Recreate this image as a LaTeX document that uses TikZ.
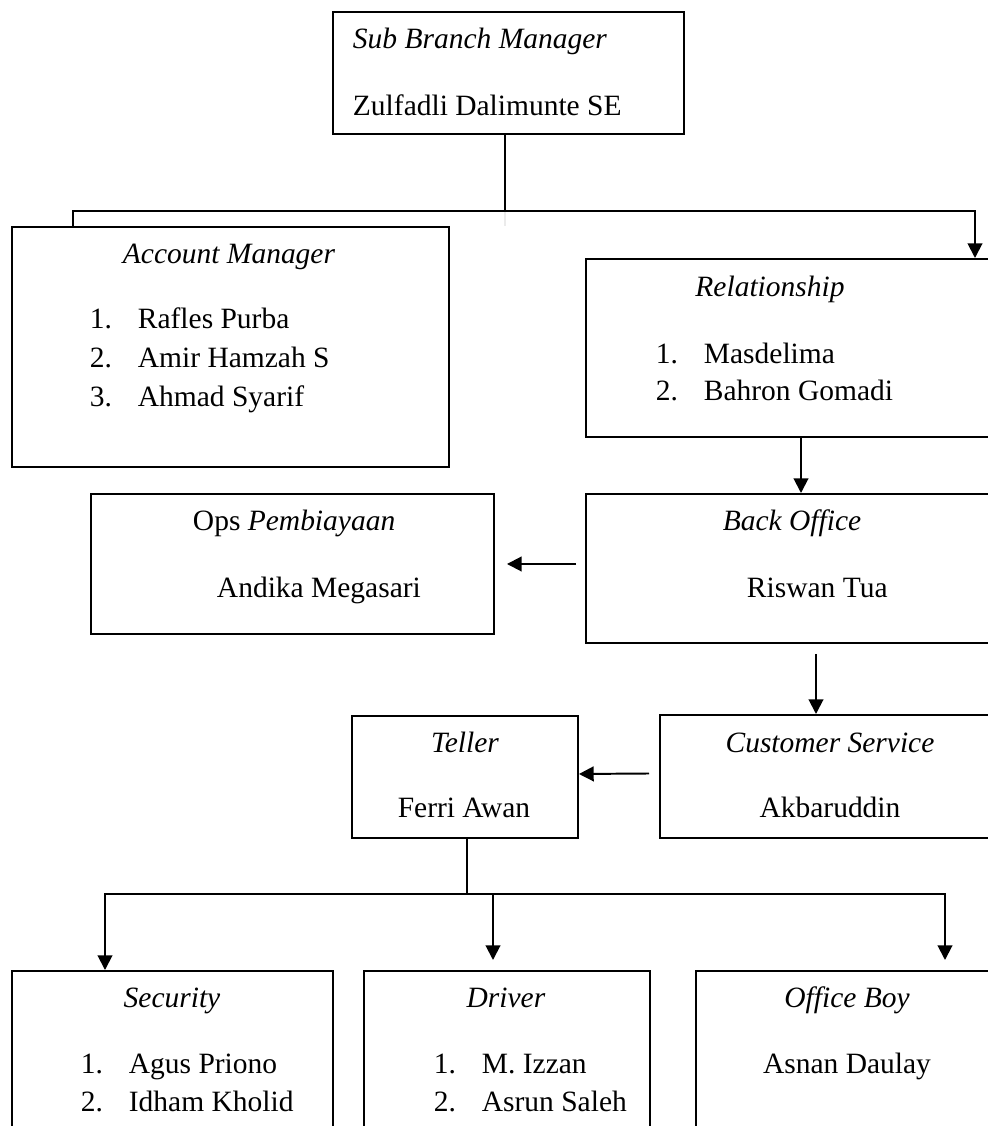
\documentclass[tikz,border=0pt]{standalone}
\usepackage{fontspec}
\setmainfont{Liberation Serif}
\usetikzlibrary{calc,arrows.meta}
\newcommand\listline[2]{\makebox[19.5pt][l]{#1}#2}

\begin{document}
\begin{tikzpicture}
  [x=0.407pt,y=-0.407pt,line width=0.8pt,
   every node/.style={font=\fontsize{12pt}{14pt}\selectfont,inner sep=0pt},
   orgbox/.style 2 args={draw,anchor=north west,minimum width=#1*0.407pt,minimum height=#2*0.407pt},
   role/.style={font=\fontsize{12pt}{14pt}\selectfont\itshape,anchor=base},
   person/.style={anchor=base west},
   arr/.style={-{Triangle[length=6pt,width=6pt]}}]
  \useasboundingbox (0,0) rectangle (988,1126);
  \clip (0,0) rectangle (988,1126);

  % boxes
  \node[orgbox={351}{122}] (sbm) at (332,11) {};
  \node[orgbox={437}{240}] (am) at (11,226) {};
  \node[orgbox={420}{178}] (rel) at (585,258) {};
  \node[orgbox={403}{140}] (ops) at (90,493) {};
  \node[orgbox={420}{149}] (bo) at (585,493) {};
  \node[orgbox={226}{122}] (tel) at (351,715) {};
  \node[orgbox={350}{123}] (cs) at (659,714) {};
  \node[orgbox={321}{170}] (sec) at (11,970) {};
  \node[orgbox={286}{170}] (drv) at (363,970) {};
  \node[orgbox={320}{170}] (ob) at (695,970) {};

  % texts
  \node[role,anchor=base west] (sbm-r) at (352,48) {Sub Branch Manager};
  \node[person] (sbm-p) at (352,115) {Zulfadli Dalimunte SE};

  \node[role] (am-r) at (229,263) {Account Manager};
  \node[person] (am-1) at (89,328) {\listline{1.}{Rafles Purba}};
  \node[person] (am-2) at (89,367) {\listline{2.}{Amir Hamzah S}};
  \node[person] (am-3) at (89,406) {\listline{3.}{Ahmad Syarif}};

  \node[role] (rel-r) at (770,296) {Relationship};
  \node[person] (rel-1) at (655,363) {\listline{1.}{Masdelima}};
  \node[person] (rel-2) at (655,400) {\listline{2.}{Bahron Gomadi}};

  \node[person] (ops-r) at (192,530) {Ops \textit{Pembiayaan}};
  \node[person] (ops-p) at (216,597) {Andika Megasari};

  \node[role] (bo-r) at (792,530) {Back Office};
  \node[person] (bo-p) at (746,597) {Riswan Tua};

  \node[role] (cs-r) at (830,752) {Customer Service};
  \node[role,font=\fontsize{12pt}{14pt}\selectfont] (cs-p) at (830,817) {Akbaruddin};

  \node[role] (tel-r) at (465,752) {Teller};
  \node[role,font=\fontsize{12pt}{14pt}\selectfont] (tel-p) at (464,817) {Ferri Awan};

  \node[role] (sec-r) at (172,1007) {Security};
  \node[person] (sec-1) at (80,1073) {\listline{1.}{Agus Priono}};
  \node[person] (sec-2) at (80,1111) {\listline{2.}{Idham Kholid}};

  \node[role] (drv-r) at (506,1007) {Driver};
  \node[person] (drv-1) at (433,1073) {\listline{1.}{M. Izzan}};
  \node[person] (drv-2) at (433,1111) {\listline{2.}{Asrun Saleh}};

  \node[role] (ob-r) at (847,1007) {Office Boy};
  \node[role,font=\fontsize{12pt}{14pt}\selectfont] (ob-p) at (847,1073) {Asnan Daulay};

  % connectors
  \coordinate (j1) at (505,211);
  \draw (j1 |- sbm.south) -- (j1);
  \draw[black!8] (j1) -- (j1 |- am.north);
  \draw (j1) -| ($(am.north west)+(62,0)$);
  \draw[arr] (j1) -| ($(rel.north west)+(390,0)$);
  \draw[arr] ($(rel.south west)+(216,0)$) -- ($(bo.north west)+(216,0)$);
  \draw[arr] ($(bo.west |- ops.east)+(-9,0)$) -- ($(ops.east)+(12,0)$);
  \draw[arr] ($(bo.south west)+(231,10)$) -- ($(cs.north west)+(157,0)$);
  \draw[arr] ($(cs.west)+(-10,-3)$) -- ($(tel.east)+(0,-3)$);

  \coordinate (j2) at (467,894);
  \draw (j2 |- tel.south) -- (j2);
  \draw[arr] (j2) -| ($(sec.north west)+(94,0)$);
  \draw[arr] (j2) -| ($(drv.north west)+(130,-10)$);
  \draw[arr] (j2) -| ($(ob.north west)+(250,-10)$);
\end{tikzpicture}
\end{document}
